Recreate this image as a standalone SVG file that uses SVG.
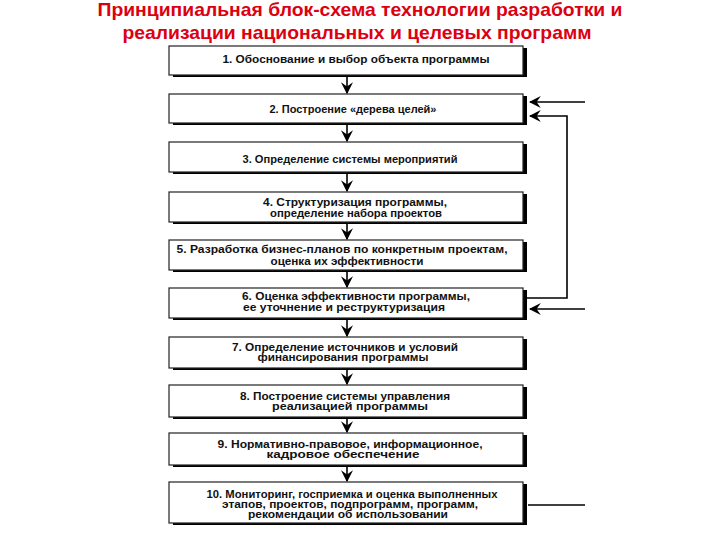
<svg xmlns="http://www.w3.org/2000/svg" width="720" height="540" viewBox="0 0 720 540">
<defs>
<style>
.title{font-family:"Liberation Sans",Arial,sans-serif;font-weight:bold;font-size:19px;fill:#dc0010}
.sh{fill:#000}
.box{fill:#fff;stroke:#222;stroke-width:1.2}
.t{font-family:"Liberation Sans",Arial,sans-serif;font-weight:bold;font-size:10px;fill:#111;text-anchor:middle}
.c{fill:none;stroke:#000;stroke-width:1.6}
</style>
<marker id="ah" viewBox="0 0 10 10" refX="9" refY="5" markerWidth="12" markerHeight="12" markerUnits="userSpaceOnUse" orient="auto">
<path d="M0,0 L10,5 L0,10 L3.5,5 z" fill="#000"/>
</marker>
</defs>
<rect width="720" height="540" fill="#fff"/>
<g id="title">
<text class="title" x="360" y="16" text-anchor="middle" textLength="525" lengthAdjust="spacingAndGlyphs">Принципиальная блок-схема технологии разработки и</text>
<text class="title" x="357" y="39" text-anchor="middle" textLength="469" lengthAdjust="spacingAndGlyphs">реализации национальных и целевых программ</text>
</g>
<g id="n1"><rect class="sh" x="173" y="48" width="354" height="29"/><rect class="box" x="169" y="46" width="354" height="29"/>
<text class="t" x="356" y="63" textLength="267" lengthAdjust="spacingAndGlyphs">1. Обоснование и выбор объекта программы</text></g>
<g id="n2"><rect class="sh" x="173" y="96" width="354" height="29"/><rect class="box" x="169" y="94" width="354" height="29"/>
<text class="t" x="353" y="112.5" textLength="167" lengthAdjust="spacingAndGlyphs">2. Построение «дерева целей»</text></g>
<g id="n3"><rect class="sh" x="173" y="144" width="354" height="30"/><rect class="box" x="169" y="142" width="354" height="30"/>
<text class="t" x="350" y="162.5" textLength="215" lengthAdjust="spacingAndGlyphs">3. Определение системы мероприятий</text></g>
<g id="n4"><rect class="sh" x="173" y="194" width="354" height="30"/><rect class="box" x="169" y="192" width="354" height="30"/>
<text class="t" x="355" y="205.5" textLength="184" lengthAdjust="spacingAndGlyphs">4. Структуризация программы,</text>
<text class="t" x="356" y="216.5" textLength="172" lengthAdjust="spacingAndGlyphs">определение набора проектов</text></g>
<g id="n5"><rect class="sh" x="173" y="242" width="354" height="30"/><rect class="box" x="169" y="240" width="354" height="30"/>
<text class="t" x="342" y="253" textLength="331" lengthAdjust="spacingAndGlyphs">5. Разработка бизнес-планов по конкретным проектам,</text>
<text class="t" x="347" y="264.5" textLength="153" lengthAdjust="spacingAndGlyphs">оценка их эффективности</text></g>
<g id="n6"><rect class="sh" x="173" y="290" width="354" height="30"/><rect class="box" x="169" y="288" width="354" height="30"/>
<text class="t" x="356" y="300" textLength="228" lengthAdjust="spacingAndGlyphs">6. Оценка эффективности программы,</text>
<text class="t" x="344" y="311" textLength="202" lengthAdjust="spacingAndGlyphs">ее уточнение и реструктуризация</text></g>
<g id="n7"><rect class="sh" x="173" y="339" width="354" height="31"/><rect class="box" x="169" y="337" width="354" height="31"/>
<text class="t" x="345" y="350.5" textLength="226" lengthAdjust="spacingAndGlyphs">7. Определение источников и условий</text>
<text class="t" x="343" y="361" textLength="171" lengthAdjust="spacingAndGlyphs">финансирования программы</text></g>
<g id="n8"><rect class="sh" x="173" y="387" width="354" height="32"/><rect class="box" x="169" y="385" width="354" height="32"/>
<text class="t" x="345" y="399.5" textLength="210" lengthAdjust="spacingAndGlyphs">8. Построение системы управления</text>
<text class="t" x="350" y="410" textLength="156" lengthAdjust="spacingAndGlyphs">реализацией программы</text></g>
<g id="n9"><rect class="sh" x="173" y="435" width="354" height="32"/><rect class="box" x="169" y="433" width="354" height="32"/>
<text class="t" x="350" y="447.5" textLength="265" lengthAdjust="spacingAndGlyphs">9. Нормативно-правовое, информационное,</text>
<text class="t" x="343" y="458" textLength="153" lengthAdjust="spacingAndGlyphs">кадровое обеспечение</text></g>
<g id="n10"><rect class="sh" x="173" y="484" width="354" height="41"/><rect class="box" x="169" y="482" width="354" height="41"/>
<text class="t" x="352" y="497.5" textLength="291" lengthAdjust="spacingAndGlyphs">10. Мониторинг, госприемка и оценка выполненных</text>
<text class="t" x="350" y="507.5" textLength="256" lengthAdjust="spacingAndGlyphs">этапов, проектов, подпрограмм, программ,</text>
<text class="t" x="348" y="517.5" textLength="200" lengthAdjust="spacingAndGlyphs">рекомендации об использовании</text></g>
<g id="connectors">
<line class="c" x1="347" y1="77" x2="347" y2="93" marker-end="url(#ah)"/>
<line class="c" x1="347" y1="125" x2="347" y2="141" marker-end="url(#ah)"/>
<line class="c" x1="347" y1="174" x2="347" y2="191" marker-end="url(#ah)"/>
<line class="c" x1="347" y1="224" x2="347" y2="239" marker-end="url(#ah)"/>
<line class="c" x1="347" y1="272" x2="347" y2="287" marker-end="url(#ah)"/>
<line class="c" x1="347" y1="320" x2="347" y2="336" marker-end="url(#ah)"/>
<line class="c" x1="347" y1="370" x2="347" y2="384" marker-end="url(#ah)"/>
<line class="c" x1="347" y1="419" x2="347" y2="432" marker-end="url(#ah)"/>
<line class="c" x1="347" y1="467" x2="347" y2="481" marker-end="url(#ah)"/>
<line class="c" x1="585" y1="102" x2="530" y2="102" marker-end="url(#ah)"/>
<polyline class="c" points="527,298 567,298 567,116 530,116" marker-end="url(#ah)"/>
<line class="c" x1="585" y1="309" x2="530" y2="309" marker-end="url(#ah)"/>
<line class="c" x1="528" y1="505" x2="585" y2="505"/>
</g>
</svg>
